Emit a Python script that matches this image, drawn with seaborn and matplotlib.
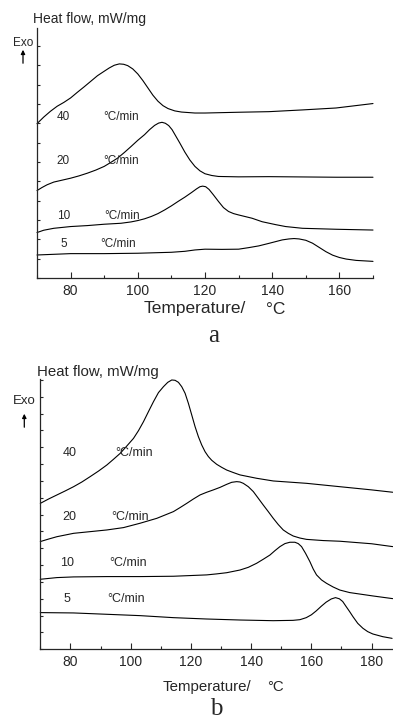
import numpy as np
import pandas as pd
import matplotlib
matplotlib.use("Agg")
import matplotlib.pyplot as plt
import seaborn as sns

# ---------------- Data: panel a ----------------
rates = ["40", "20", "10", "5"]
unit_label = "°C/min"

a40_T = [70, 71, 72, 74, 76, 78, 80, 82, 84, 86, 88, 90, 91.5, 93, 94.5, 95.8, 97, 98.5, 100, 101.5,
         103, 104.5, 106, 107.5, 109, 111, 113, 117, 120, 130, 139, 149, 159, 170]
a40_H = [7.98, 8.15, 8.32, 8.62, 8.88, 9.08, 9.31, 9.60, 9.88, 10.17, 10.46, 10.69, 10.86, 11.0, 11.07,
         11.05, 10.98, 10.81, 10.55, 10.21, 9.83, 9.45, 9.14, 8.91, 8.76, 8.64, 8.58, 8.53, 8.53, 8.57,
         8.60, 8.69, 8.79, 9.02]

a20_T = [70, 71.5, 73, 75, 77.5, 80, 82.5, 85, 87.5, 90, 92, 94, 96, 98, 100, 102, 103.5, 105, 106.2,
         107.2, 108.2, 109.2, 110.2, 111.2, 112.5, 114, 115.5, 117, 118.5, 120, 122, 124, 130, 139,
         159, 170]
a20_H = [4.52, 4.68, 4.82, 4.96, 5.06, 5.16, 5.28, 5.42, 5.58, 5.77, 5.98, 6.20, 6.49, 6.80, 7.12, 7.41,
         7.67, 7.89, 8.01, 8.05, 8.0, 7.88, 7.67, 7.37, 6.98, 6.51, 6.10, 5.77, 5.54, 5.39, 5.30, 5.25,
         5.23, 5.24, 5.21, 5.21]

a10_T = [70, 72, 75, 80, 85, 90, 95, 98, 100, 102, 104, 106, 108, 110, 112, 114, 116, 117.5, 118.5,
         119.3, 120.2, 121.2, 122.5, 124, 125.5, 127, 128.5, 130, 134, 137, 141, 144, 149, 159, 170]
a10_H = [2.35, 2.47, 2.57, 2.66, 2.71, 2.78, 2.83, 2.90, 2.97, 3.06, 3.18, 3.33, 3.52, 3.73, 3.96, 4.18,
         4.42, 4.61, 4.72, 4.75, 4.72, 4.58, 4.30, 3.96, 3.64, 3.44, 3.33, 3.26, 3.09, 2.91, 2.76, 2.66,
         2.57, 2.52, 2.48]

a5_T = [70, 80, 90, 100, 110, 114, 117, 120, 125, 130, 133, 136, 139, 141, 143, 145, 146.5, 148, 150,
        152, 154, 156, 158, 160, 162, 165, 170]
a5_H = [1.19, 1.26, 1.26, 1.28, 1.33, 1.38, 1.45, 1.49, 1.48, 1.49, 1.57, 1.66, 1.79, 1.88, 1.97, 2.02,
        2.04, 2.02, 1.95, 1.80, 1.58, 1.36, 1.18, 1.06, 0.98, 0.91, 0.86]

a_lab_T = [75.9, 75.9, 76.1, 76.9]
a_lab_unit_T = [89.7, 89.7, 90.1, 88.7]
a_lab_H = [8.31, 6.05, 3.21, 1.74]

# ---------------- Data: panel b ----------------
b40_T = [70, 72.76, 75.52, 78.29, 81.05, 83.81, 86.57, 89.34, 92.10, 94.31, 96.52, 98.73, 100.94,
         102.60, 104.25, 105.91, 107.57, 109.23, 110.88, 112.32, 113.65, 114.75, 115.86, 116.96,
         118.07, 119.17, 120.28, 121.38, 122.49, 123.59, 124.70, 125.80, 126.91, 128.56, 130.22,
         131.88, 134.09, 136.30, 141.82, 147.35, 158.40, 169.45, 180, 187]
b40_H = [8.67, 8.93, 9.17, 9.41, 9.66, 9.94, 10.26, 10.59, 10.95, 11.29, 11.64, 12.08, 12.53, 12.99,
         13.52, 14.12, 14.71, 15.25, 15.60, 15.86, 16.0, 15.98, 15.86, 15.60, 15.21, 14.61, 13.92,
         13.23, 12.63, 12.14, 11.74, 11.45, 11.23, 10.99, 10.81, 10.65, 10.50, 10.36, 10.16, 10.0,
         9.86, 9.66, 9.47, 9.33]

b20_T = [70, 72.76, 75.52, 78.29, 81.05, 86.57, 92.10, 97.62, 103.15, 108.67, 111.99, 114.20, 116.41,
         118.62, 120.83, 123.04, 125.25, 127.46, 129.67, 131.88, 133.54, 135.19, 136.30, 137.40,
         139.06, 140.72, 142.38, 144.03, 145.69, 147.35, 149.01, 150.66, 152.32, 153.98, 156.19,
         158.40, 163.92, 169.45, 180, 187]
b20_H = [6.40, 6.55, 6.69, 6.79, 6.89, 6.99, 7.09, 7.23, 7.49, 7.78, 8.02, 8.18, 8.42, 8.67, 8.93,
         9.17, 9.33, 9.47, 9.62, 9.80, 9.92, 9.96, 9.94, 9.86, 9.66, 9.37, 8.97, 8.57, 8.18, 7.78,
         7.41, 7.09, 6.89, 6.73, 6.61, 6.53, 6.46, 6.42, 6.27, 6.10]

b10_T = [70, 75.52, 81.05, 92.10, 103.15, 114.20, 119.72, 125.25, 128.56, 131.88, 134.09, 136.30,
         139.06, 141.82, 144.03, 146.24, 147.90, 149.56, 151.22, 152.87, 154.53, 155.64, 156.74,
         158.07, 159.50, 160.61, 161.71, 163.37, 165.03, 167.24, 169.45, 172.7, 180.4, 187]
b10_H = [4.16, 4.26, 4.30, 4.32, 4.32, 4.34, 4.38, 4.42, 4.48, 4.55, 4.63, 4.71, 4.87, 5.11, 5.35,
         5.60, 5.86, 6.10, 6.28, 6.36, 6.36, 6.28, 6.10, 5.70, 5.21, 4.77, 4.42, 4.12, 3.92, 3.70,
         3.52, 3.37, 3.17, 3.01]

b5_T = [70, 81.0, 92.1, 103.1, 114.2, 125.2, 136.3, 147.3, 153.9, 156.2, 158.3, 160.0, 161.6, 163.3,
        164.9, 166.6, 168.0, 169.3, 170.4, 171.5, 172.7, 173.8, 175.4, 177.1, 178.7, 180.4, 183.7,
        186.8]
b5_H = [2.18, 2.16, 2.08, 2.0, 1.88, 1.80, 1.74, 1.70, 1.72, 1.76, 1.88, 2.05, 2.28, 2.56, 2.80, 2.99,
        3.07, 3.0, 2.84, 2.55, 2.24, 1.94, 1.54, 1.25, 1.05, 0.91, 0.75, 0.65]

b_lab_T = [77.4, 77.2, 76.5, 77.6]
b_lab_unit_T = [94.75, 93.6, 92.9, 92.2]
b_lab_H = [11.68, 7.84, 5.11, 2.97]


def long_df(curves):
    frames = []
    for rate, (T, H) in zip(rates, curves):
        frames.append(pd.DataFrame({"T": T, "H": H, "rate": rate}))
    return pd.concat(frames, ignore_index=True)


df_a = long_df([(a40_T, a40_H), (a20_T, a20_H), (a10_T, a10_H), (a5_T, a5_H)])
df_b = long_df([(b40_T, b40_H), (b20_T, b20_H), (b10_T, b10_H), (b5_T, b5_H)])

sns.set_style("ticks")
plt.rcParams["font.family"] = ["Liberation Sans", "DejaVu Sans"]

W, Hh = 393, 720
fig = plt.figure(figsize=(W / 100, Hh / 100), dpi=100)


def px_rect(l, t, r, b):
    return [l / W, 1 - b / Hh, (r - l) / W, (b - t) / Hh]


ax_a = fig.add_axes(px_rect(37, 28.5, 373, 278))
ax_b = fig.add_axes(px_rect(40.3, 379.3, 392.7, 649.3))

pal = {r: "black" for r in rates}
for ax, df in ((ax_a, df_a), (ax_b, df_b)):
    sns.lineplot(data=df, x="T", y="H", hue="rate", units="rate", estimator=None, sort=False,
                 palette=pal, linewidth=0.8, legend=False, ax=ax)
    for l in ax.get_lines():
        l.set_clip_on(False)
        l.set_solid_joinstyle("round")
    sns.despine(ax=ax)
    ax.set_xlabel("")
    ax.set_ylabel("")
    ax.tick_params(axis="x", which="major", direction="in", length=4, width=0.8, labelsize=10, pad=4)
    ax.tick_params(axis="x", which="minor", direction="in", length=2, width=0.8)
    ax.tick_params(axis="y", which="major", direction="in", length=2.5, width=0.8, labelleft=False)
    for s in ("left", "bottom"):
        ax.spines[s].set_linewidth(0.9)
    ax.set_facecolor("white")

# panel a axes
ax_a.set_xlim(70, 170)
ax_a.set_ylim(0, 12.9)
ax_a.set_xticks([80, 100, 120, 140, 160])
ax_a.set_xticks(np.arange(70, 171, 10), minor=True)
ax_a.set_yticks(np.arange(0, 13, 1))

# panel b axes
ax_b.set_xlim(70, 187)
ax_b.set_ylim(0, 16.04)
ax_b.set_xticks([80, 100, 120, 140, 160, 180])
ax_b.set_xticks(np.arange(70, 187, 10), minor=True)
ax_b.set_yticks(np.arange(0, 17, 1))

for r, xt, xu, yh in zip(rates, a_lab_T, a_lab_unit_T, a_lab_H):
    ax_a.text(xt, yh, r, fontsize=8.5, ha="left", va="center")
    ax_a.text(xu, yh, unit_label, fontsize=8.5, ha="left", va="center")
for r, xt, xu, yh in zip(rates, b_lab_T, b_lab_unit_T, b_lab_H):
    ax_b.text(xt, yh, r, fontsize=9, ha="left", va="center")
    ax_b.text(xu, yh, unit_label, fontsize=9, ha="left", va="center")


def ft(x, y, s, **kw):
    fig.text(x / W, 1 - y / Hh, s, **kw)


# panel a annotations
ft(33, 19, "Heat flow, mW/mg", fontsize=10, ha="left", va="center")
ft(13, 43, "Exo", fontsize=8.5, ha="left", va="center")
fig.add_artist(matplotlib.patches.FancyArrowPatch((23 / W, 1 - 66 / Hh), (23 / W, 1 - 47 / Hh),
               transform=fig.transFigure, arrowstyle="-|>", mutation_scale=6, lw=0.9, color="black"))
ft(144, 309, "Temperature/", fontsize=12.5, ha="left", va="center")
ft(266, 309, "°C", fontsize=12.5, ha="left", va="center")
ft(214, 336, "a", fontsize=18, ha="center", va="center", family=["Liberation Serif", "DejaVu Serif"])

# panel b annotations
ft(36.7, 372, "Heat flow, mW/mg", fontsize=10.8, ha="left", va="center")
ft(13, 401, "Exo", fontsize=9.5, ha="left", va="center")
fig.add_artist(matplotlib.patches.FancyArrowPatch((24.3 / W, 1 - 430 / Hh), (24.3 / W, 1 - 411 / Hh),
               transform=fig.transFigure, arrowstyle="-|>", mutation_scale=6, lw=0.9, color="black"))
ft(163, 687, "Temperature/", fontsize=10.8, ha="left", va="center")
ft(267, 687, "°C", fontsize=10.8, ha="left", va="center")
ft(216, 709, "b", fontsize=18, ha="center", va="center", family=["Liberation Serif", "DejaVu Serif"])

fig.savefig("out.png", dpi=100, facecolor="white")
